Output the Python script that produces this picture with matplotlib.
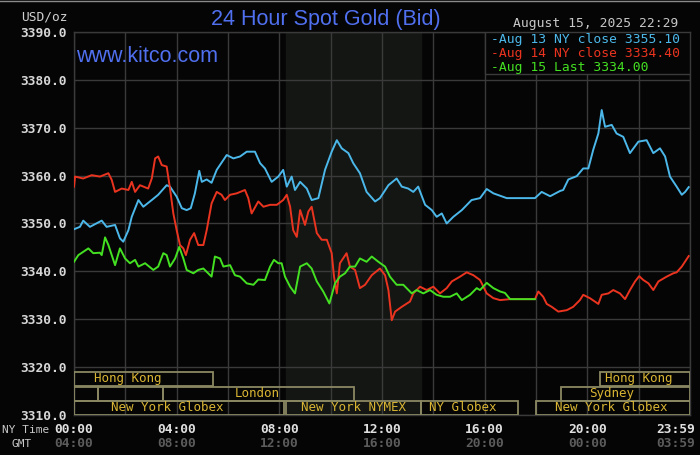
import matplotlib
matplotlib.use("Agg")
import matplotlib.pyplot as plt
from matplotlib.patches import Rectangle
from matplotlib.lines import Line2D
import matplotlib.transforms as mtransforms

# ---------------- data ----------------
blue_t = [0.0, 0.23, 0.36, 0.62, 1.08, 1.27, 1.60, 1.79, 1.92, 2.12, 2.25, 2.51, 2.70, 3.03, 3.28,
          3.61, 3.74, 4.00, 4.20, 4.39, 4.55, 4.71, 4.88, 4.98, 5.17, 5.36, 5.56, 5.95, 6.21, 6.47,
          6.73, 7.05, 7.25, 7.44, 7.70, 7.96, 8.15, 8.29, 8.48, 8.61, 8.81, 9.07, 9.26, 9.52, 9.78,
          10.04, 10.24, 10.43, 10.69, 10.88, 11.14, 11.40, 11.73, 11.92, 12.25, 12.57, 12.77, 13.02,
          13.22, 13.41, 13.68, 13.94, 14.13, 14.33, 14.52, 14.78, 15.11, 15.49, 15.82, 16.08, 16.34,
          16.86, 17.96, 18.22, 18.55, 18.94, 19.06, 19.26, 19.59, 19.84, 20.04, 20.23, 20.43, 20.56,
          20.69, 20.95, 21.14, 21.40, 21.66, 21.99, 22.31, 22.57, 22.83, 23.03, 23.22, 23.48, 23.68,
          23.81, 23.95]
blue_v = [3348.8, 3349.3, 3350.6, 3349.3, 3350.6, 3349.3, 3349.7, 3346.9, 3346.2, 3348.6, 3351.4,
          3354.9, 3353.5, 3354.9, 3356.0, 3358.0, 3357.7, 3355.6, 3353.2, 3352.8, 3353.2, 3356.3,
          3361.0, 3358.7, 3359.2, 3358.5, 3361.2, 3364.3, 3363.6, 3364.0, 3365.0, 3365.0, 3362.6,
          3361.5, 3358.7, 3359.8, 3361.2, 3357.7, 3359.8, 3357.0, 3358.7, 3357.3, 3354.9, 3355.3,
          3361.2, 3365.0, 3367.4, 3365.7, 3364.7, 3362.6, 3360.5, 3356.6, 3354.6, 3355.3, 3358.0,
          3359.4, 3357.7, 3357.3, 3356.6, 3357.7, 3353.9, 3352.8, 3351.4, 3352.1, 3350.0, 3351.4,
          3352.8, 3354.9, 3355.3, 3357.2, 3356.3, 3355.3, 3355.3, 3356.6, 3355.7, 3356.8, 3357.0,
          3359.2, 3359.9, 3361.5, 3361.5, 3365.4, 3368.8, 3373.7, 3370.2, 3370.6, 3368.8, 3368.1,
          3364.7, 3367.1, 3367.4, 3364.7, 3365.7, 3364.0, 3359.8, 3357.7, 3356.0, 3356.6, 3357.6]

red_t = [0.0, 0.04, 0.36, 0.69, 1.01, 1.34, 1.47, 1.60, 1.86, 2.12, 2.25, 2.38, 2.57, 2.89, 3.03,
         3.16, 3.28, 3.42, 3.61, 3.74, 3.87, 4.00, 4.13, 4.26, 4.36, 4.52, 4.68, 4.84, 5.04, 5.17,
         5.36, 5.56, 5.75, 5.88, 6.08, 6.34, 6.66, 6.79, 6.92, 7.18, 7.38, 7.64, 7.90, 8.15, 8.29,
         8.42, 8.54, 8.68, 8.81, 9.00, 9.13, 9.26, 9.46, 9.65, 9.85, 10.04, 10.13, 10.24, 10.36,
         10.62, 10.75, 10.95, 11.14, 11.34, 11.60, 11.92, 12.12, 12.25, 12.38, 12.51, 12.77, 13.09,
         13.22, 13.48, 13.74, 14.00, 14.26, 14.52, 14.72, 15.04, 15.30, 15.56, 15.82, 16.08, 16.34,
         16.60, 16.99, 17.96, 18.09, 18.28, 18.42, 18.61, 18.87, 19.20, 19.45, 19.71, 19.84, 20.10,
         20.43, 20.56, 20.82, 21.01, 21.27, 21.47, 21.66, 21.86, 22.02, 22.18, 22.38, 22.57, 22.77,
         23.09, 23.35, 23.48, 23.68, 23.95]
red_v = [3357.7, 3359.8, 3359.4, 3360.1, 3359.8, 3360.5, 3359.1, 3356.6, 3357.3, 3357.0, 3358.7,
         3356.6, 3358.0, 3357.3, 3359.4, 3363.6, 3364.0, 3362.2, 3361.9, 3357.3, 3352.1, 3348.6,
         3345.5, 3344.8, 3343.4, 3346.6, 3348.0, 3345.5, 3345.5, 3348.6, 3354.2, 3356.6, 3356.0,
         3354.9, 3356.0, 3356.3, 3357.0, 3355.3, 3352.1, 3354.6, 3353.5, 3353.9, 3353.9, 3354.9,
         3356.0, 3353.5, 3348.6, 3347.2, 3352.8, 3349.7, 3352.5, 3353.5, 3348.0, 3346.6, 3346.6,
         3343.8, 3338.9, 3335.4, 3341.7, 3343.8, 3341.0, 3340.3, 3336.5, 3337.2, 3339.2, 3340.6,
         3339.2, 3336.1, 3329.8, 3331.6, 3332.6, 3333.7, 3335.4, 3336.8, 3336.1, 3336.8, 3335.4,
         3336.5, 3337.9, 3338.9, 3339.8, 3339.2, 3338.2, 3335.4, 3334.4, 3334.0, 3334.2, 3334.2,
         3335.8, 3334.7, 3333.2, 3332.6, 3331.6, 3331.9, 3332.6, 3334.0, 3335.1, 3334.4, 3333.2,
         3335.1, 3335.4, 3336.1, 3335.4, 3334.2, 3336.1, 3337.9, 3339.0, 3338.2, 3337.5, 3336.1,
         3337.9, 3338.9, 3339.6, 3339.8, 3341.0, 3343.2]

green_t = [0.0, 0.17, 0.56, 0.75, 1.01, 1.08, 1.21, 1.34, 1.47, 1.60, 1.79, 1.99, 2.18, 2.38, 2.51,
           2.77, 3.09, 3.28, 3.48, 3.61, 3.74, 3.94, 4.10, 4.26, 4.39, 4.65, 4.84, 5.04, 5.36, 5.49,
           5.69, 5.82, 6.08, 6.27, 6.47, 6.73, 6.99, 7.18, 7.44, 7.64, 7.79, 7.96, 8.09, 8.22, 8.42,
           8.61, 8.81, 9.07, 9.26, 9.46, 9.71, 9.95, 10.17, 10.36, 10.56, 10.75, 10.95, 11.14, 11.40,
           11.60, 11.86, 12.12, 12.31, 12.57, 12.83, 13.16, 13.35, 13.61, 13.87, 14.13, 14.39, 14.65,
           14.91, 15.11, 15.43, 15.69, 15.82, 16.08, 16.34, 16.60, 16.79, 16.99, 17.96]
green_v = [3342.0, 3343.4, 3344.8, 3343.8, 3343.9, 3343.4, 3347.1, 3345.5, 3343.4, 3341.3, 3344.8,
           3342.7, 3341.7, 3342.4, 3341.0, 3341.7, 3340.3, 3341.0, 3343.8, 3343.4, 3341.0, 3342.7,
           3345.1, 3342.7, 3340.3, 3339.6, 3340.3, 3340.6, 3338.9, 3343.1, 3342.7, 3341.0, 3341.3,
           3339.2, 3338.9, 3337.5, 3337.2, 3338.3, 3338.2, 3341.0, 3342.4, 3341.7, 3341.7, 3338.9,
           3336.8, 3335.4, 3341.0, 3341.7, 3340.6, 3337.9, 3335.8, 3333.3, 3337.5, 3338.9, 3339.6,
           3341.0, 3341.0, 3342.7, 3342.0, 3343.1, 3342.0, 3341.0, 3338.9, 3337.2, 3337.2, 3335.4,
           3336.1, 3335.4, 3336.1, 3335.1, 3334.7, 3334.7, 3335.4, 3334.0, 3335.1, 3336.5, 3336.1,
           3337.6, 3336.5, 3335.8, 3335.5, 3334.2, 3334.2]

legend_labels = ["-Aug 13 NY close 3355.10", "-Aug 14 NY close 3334.40", "-Aug 15 Last 3334.00"]
y_ticks = [3310, 3320, 3330, 3340, 3350, 3360, 3370, 3380, 3390]
ny_time_ticks = [0, 4, 8, 12, 16, 20, 23.983]
ny_time_labels = ["00:00", "04:00", "08:00", "12:00", "16:00", "20:00", "23:59"]
gmt_labels = ["04:00", "08:00", "12:00", "16:00", "20:00", "00:00", "03:59"]

# sessions: label, start hour, end hour, row (0 bottom), label centre hour
session_names = ["New York Globex", "New York NYMEX", "NY Globex", "New York Globex",
                 "", "", "London", "Sydney", "Hong Kong", "Hong Kong"]
session_start = [0.0, 8.25, 13.52, 18.0, 0.0, 0.95, 3.47, 18.96, 0.0, 20.5]
session_end = [8.2, 13.5, 17.3, 24.0, 0.93, 3.45, 10.92, 24.0, 5.42, 24.0]
session_row = [0, 0, 0, 0, 1, 1, 1, 1, 2, 2]
session_label_x = [3.62, 10.89, 15.16, 20.95, 0, 0, 7.13, 20.95, 2.10, 22.01]

nymex_span = (8.25, 13.5)

# ---------------- figure ----------------
W, H = 700, 455
BG = '#050505'
GRID = '#3a3a3a'
MONO = 'DejaVu Sans Mono'
fig = plt.figure(figsize=(7, 4.55), dpi=100, facecolor=BG)
ax = fig.add_axes([74 / W, 1 - 415 / H, (690 - 74) / W, (415 - 32) / H])
ax.set_facecolor(BG)
ax.set_xlim(0, 24)
ax.set_ylim(3310, 3390)
ax.set_axisbelow(True)
ax.set_xticks(range(0, 25, 2))
ax.set_yticks(y_ticks)
ax.set_yticklabels([f"{v:.1f}" for v in y_ticks], family=MONO, fontsize=9.3,
                   color='#d8d8d8', fontweight='bold')
ax.tick_params(axis='x', length=0, labelbottom=False)
ax.tick_params(axis='y', length=0, pad=5)
ax.grid(True, color=GRID, lw=1.0)
for s in ax.spines.values():
    s.set_color(GRID)
    s.set_linewidth(1.0)

ax.axvspan(nymex_span[0], nymex_span[1], color='#131613', zorder=0)

ax.plot(blue_t, blue_v, color='#4cb8ea', lw=1.4, zorder=3)
ax.plot(red_t, red_v, color='#ea3420', lw=1.4, zorder=3)
ax.plot(green_t, green_v, color='#44e022', lw=1.4, zorder=4)

# session boxes
row_y0 = [3310.1, 3313.0, 3316.1]
row_h = [2.8, 2.9, 2.9]
for name, s0, s1, r, lx in zip(session_names, session_start, session_end, session_row, session_label_x):
    ax.add_patch(Rectangle((s0, row_y0[r]), s1 - s0, row_h[r], fill=False,
                           edgecolor='#8a8862', lw=1.3, zorder=5, clip_on=True))
    if name:
        ax.text(lx, row_y0[r] + row_h[r] / 2, name, family=MONO, fontsize=9, color='#d9b533',
                ha='center', va='center', zorder=6)

# legend box
ax.add_patch(Rectangle((16.0, 3381.2), 8.0, 8.8, facecolor=BG, edgecolor=GRID, lw=1.0, zorder=6))
leg_colors = ['#4cb8ea', '#ea3420', '#44e022']
leg_base_y = [43.3, 57.0, 71.0]
for lab, c, yb in zip(legend_labels, leg_colors, leg_base_y):
    fig.text(491 / W, 1 - yb / H, lab, family=MONO, fontsize=9.4, color=c, ha='left', va='baseline')

# title etc.
fig.text(326 / W, 1 - 25 / H, "24 Hour Spot Gold (Bid)", family='Liberation Sans', fontsize=15.5,
         color='#5070f0', ha='center', va='baseline')
fig.text(76 / W, 1 - 62.5 / H, "www.kitco.com", family='Liberation Sans', fontsize=15.5,
         color='#5070f0', ha='left', va='baseline')
fig.text(678 / W, 1 - 26.7 / H, "August 15, 2025 22:29", family=MONO, fontsize=9.4,
         color='#c8c8c8', ha='right', va='baseline')
fig.text(68 / W, 1 - 20 / H, "USD/oz", family=MONO, fontsize=9.3, color='#d0d0d0',
         ha='right', va='baseline')

# x labels
trans = mtransforms.blended_transform_factory(ax.transData, fig.transFigure)
for i, (t, l1, l2) in enumerate(zip(ny_time_ticks, ny_time_labels, gmt_labels)):
    ha = 'center'
    xx = t
    if i == len(ny_time_ticks) - 1:
        ha = 'right'
        xx = 24.0 + 5 / 25.67
    fig.text(xx, 1 - 432.7 / H, l1, transform=trans, family=MONO, fontsize=9.3, color='#e0e0e0',
             fontweight='bold', ha=ha, va='baseline')
    fig.text(xx, 1 - 447.3 / H, l2, transform=trans, family=MONO, fontsize=9.3, color='#5c5c5c',
             fontweight='bold', ha=ha, va='baseline')
fig.text(2 / W, 1 - 432.7 / H, "NY Time", family=MONO, fontsize=8.0, color='#c8c8c8',
         ha='left', va='baseline')
fig.text(12 / W, 1 - 447.3 / H, "GMT", family=MONO, fontsize=8.0, color='#c8c8c8',
         ha='left', va='baseline')

# thin light border along the top edge
fig.add_artist(Line2D([0, 1], [1 - 0.5 / H, 1 - 0.5 / H], transform=fig.transFigure,
                      color='#8a8a8a', lw=1.0))

fig.savefig("out.png", dpi=100, facecolor=BG)
